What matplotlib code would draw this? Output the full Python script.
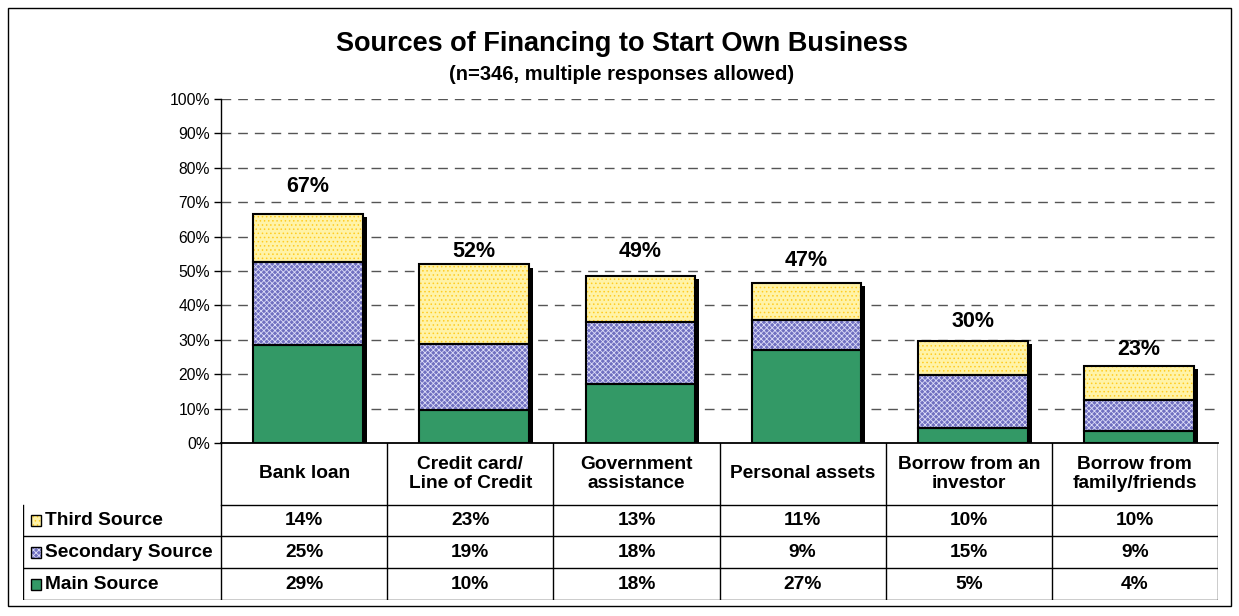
import numpy as np
import matplotlib.pyplot as plt
from matplotlib.patches import Rectangle

plt.rcParams['font.family'] = ['Liberation Sans', 'DejaVu Sans']
plt.rcParams['hatch.linewidth'] = 0.6

categories = ['Bank loan', 'Credit card/\nLine of Credit', 'Government\nassistance',
              'Personal assets', 'Borrow from an\ninvestor', 'Borrow from\nfamily/friends']
series_names = ['Third Source', 'Secondary Source', 'Main Source']

# rounded values as printed in the data table
main_pct = [29, 10, 18, 27, 5, 4]
second_pct = [25, 19, 18, 9, 15, 9]
third_pct = [14, 23, 13, 11, 10, 10]
totals = [67, 52, 49, 47, 30, 23]

# unrounded segment heights as drawn in the bars
main_src = [28.5, 9.6, 17.2, 27.0, 4.5, 3.5]
second_src = [24.1, 19.2, 18.0, 8.8, 15.4, 9.0]
third_src = [13.9, 23.1, 13.3, 10.6, 9.8, 9.9]
label_y = [74.5, 55.6, 55.6, 53.1, 35.3, 27.3]

# face colour, hatch colour, hatch
styles = {
    'Main Source': ('#339966', '#339966', None),
    'Secondary Source': ('#7070c0', '#dcdcf8', 'xxxxxx'),
    'Third Source': ('#fff3a8', '#ffcc22', '....'),
}

W, H = 1239, 616
fig = plt.figure(figsize=(W / 100, H / 100), dpi=100)
fig.patches.append(Rectangle((8 / W, 1 - 606 / H), 1223 / W, 598 / H, transform=fig.transFigure,
                             fill=False, edgecolor='black', linewidth=1))

ax = fig.add_axes([221 / W, 1 - 443 / H, 997 / W, 344 / H])
x = np.arange(len(categories)) + 4 / 166
bw = 0.66

# shadow
tops = np.array(main_src) + np.array(second_src) + np.array(third_src)
ax.bar(x + 4 / 166, tops - 0.9, width=bw, color='black', zorder=1)

bottom = np.zeros(len(categories))
for name, vals in [('Main Source', main_src), ('Secondary Source', second_src), ('Third Source', third_src)]:
    fc, hc, hatch = styles[name]
    ax.bar(x, vals, bw, bottom=bottom, facecolor=fc, edgecolor=hc, hatch=hatch, linewidth=0, zorder=2)
    ax.bar(x, vals, bw, bottom=bottom, fill=False, edgecolor='black', linewidth=1.5, zorder=3)
    bottom += vals

for xi, t, ly in zip(x, totals, label_y):
    ax.text(xi, ly, f'{t}%', ha='center', va='center', fontsize=15.5, fontweight='bold')

ax.set_xlim(-0.5, 5.5)
ax.set_ylim(0, 100)
ax.set_yticks(np.arange(0, 101, 10))
ax.set_yticklabels([f'{v}%' for v in range(0, 101, 10)], fontsize=11.3)
ax.set_xticks([])
for v in range(10, 101, 10):
    ax.axhline(v, color='#555555', linestyle=(0, (7, 5)), linewidth=1, zorder=0)
ax.spines['top'].set_visible(False)
ax.spines['right'].set_visible(False)
ax.spines['left'].set_linewidth(1)
ax.spines['bottom'].set_linewidth(1.3)
ax.tick_params(axis='y', direction='out', length=5, width=1, pad=3)

fig.text(622 / W, 1 - 44 / H, 'Sources of Financing to Start Own Business',
         ha='center', va='center', fontsize=19.5, fontweight='bold')
fig.text(622 / W, 1 - 75 / H, '(n=346, multiple responses allowed)',
         ha='center', va='center', fontsize=14.5, fontweight='bold')

# data table
lw_col = 198 / 166
hdr = 62 / 32
tab = fig.add_axes([23 / W, 1 - 600 / H, 1195 / W, 157 / H])
tab.set_xlim(-lw_col, 6)
tab.set_ylim(0, 3 + hdr)
tab.axis('off')
for yy in range(4):
    tab.plot([-lw_col if yy < 3 else 0, 6], [yy, yy], color='black', linewidth=1)
tab.plot([-lw_col, -lw_col], [0, 3], color='black', linewidth=1)
for xx in range(7):
    tab.plot([xx, xx], [0, 3 + hdr], color='black', linewidth=1)

for i, c in enumerate(categories):
    tab.text(i + 0.5, 3 + hdr / 2, c, ha='center', va='center', fontsize=13.8,
             fontweight='bold', linespacing=1.15)

rows = [third_pct, second_pct, main_pct]
for r, (name, vals) in enumerate(zip(series_names, rows)):
    yc = 2.5 - r
    fc, hc, hatch = styles[name]
    kx = -lw_col + 8 / 166
    tab.add_patch(Rectangle((kx, yc - 0.17), 10 / 166, 0.34, facecolor=fc, edgecolor=hc,
                            hatch=hatch, linewidth=0))
    tab.add_patch(Rectangle((kx, yc - 0.17), 10 / 166, 0.34, fill=False, edgecolor='black',
                            linewidth=1))
    tab.text(-lw_col + 22 / 166, yc, name, ha='left', va='center', fontsize=13.8, fontweight='bold')
    for i, v in enumerate(vals):
        tab.text(i + 0.5, yc, f'{v}%', ha='center', va='center', fontsize=13.8, fontweight='bold')

fig.savefig('out.png', dpi=100)
